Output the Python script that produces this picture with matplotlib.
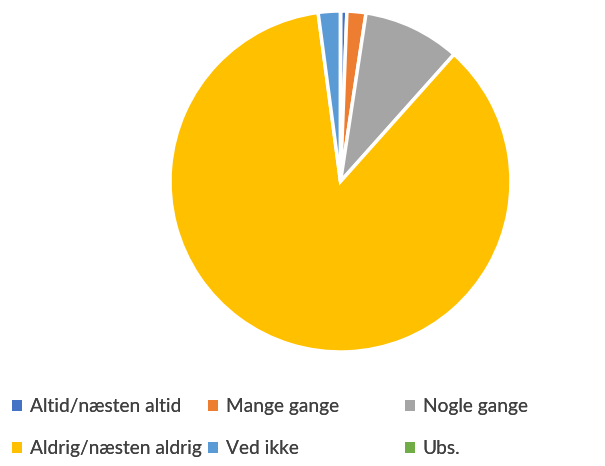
import matplotlib.pyplot as plt
from matplotlib.patches import Patch

labels = ["Altid/næsten altid", "Mange gange", "Nogle gange",
          "Aldrig/næsten aldrig", "Ved ikke", "Ubs."]
values = [0.6, 1.8, 9.2, 86.3, 2.1, 0.0]
colors = ["#4472C4", "#ED7D31", "#A5A5A5", "#FFC000", "#5B9BD5", "#70AD47"]

plt.rcParams['font.family'] = ['Lato', 'DejaVu Sans']

W, H = 605, 466
fig = plt.figure(figsize=(W / 100, H / 100), dpi=100)
ax = fig.add_axes([170 / W, 1 - 352 / H, 341 / W, 341 / H])
ax.pie(values, colors=colors, startangle=90, counterclock=False,
       wedgeprops=dict(edgecolor="white", linewidth=2.5))
ax.set_xlim(-1, 1)
ax.set_ylim(-1, 1)
ax.set_aspect("equal")

handles = [Patch(facecolor=c, edgecolor="none") for c in colors]
# three one-column legends, placed where Excel put its columns
col_x = [-1, 195, 392]
for k, x in enumerate(col_x):
    idx = [k, k + 3]
    leg = fig.legend([handles[i] for i in idx], [labels[i] for i in idx],
                     loc="upper left", bbox_to_anchor=(x / W, 1 - 385 / H),
                     frameon=False, fontsize=13.8, handlelength=0.5,
                     handleheight=0.5, handletextpad=0.4, labelspacing=1.3,
                     borderpad=0.2, labelcolor="#404040")
    fig.add_artist(leg)

fig.savefig("out.png", dpi=100)
